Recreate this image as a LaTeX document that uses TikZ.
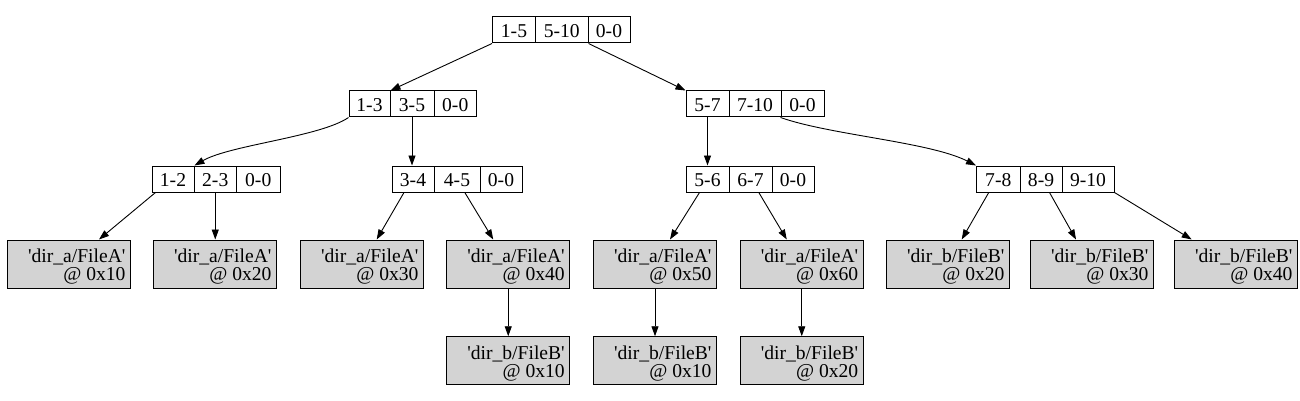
\documentclass[tikz,border=0pt]{standalone}
\usepackage{fontspec}
\newfontfamily\gvfont{Liberation Serif}
\usetikzlibrary{arrows.meta}
\definecolor{gvgray}{HTML}{D3D3D3}
\newcommand{\leaflab}[2]{\makebox[113pt][r]{\begin{tabular}[t]{@{}r@{}}#1\\#2\end{tabular}}}
\begin{document}
\begin{tikzpicture}[x=1pt,y=-1pt,
  gvtext/.style={font=\gvfont\fontsize{19.6}{17.7}\selectfont},
  cell/.style={gvtext, draw, line width=1pt, minimum height=26pt, inner sep=0pt,
    anchor=north west, text height=15.6pt, text depth=0pt},
  leaf/.style={gvtext, draw, fill=gvgray, line width=1pt, minimum width=123pt,
    minimum height=48pt, inner xsep=5pt, inner ysep=2pt, text height=20pt, text depth=23pt},
  conn/.style={line width=0.9pt, -{Triangle[length=10pt,width=7pt]}}]
\path[fill=white, use as bounding box] (0,0) rectangle (1300,401);

% root
\node[cell, minimum width=43pt]   (r1) at (492,16.5) {1-5};
\node[cell, minimum width=52.5pt] (r2) at (535,16.5) {5-10};
\node[cell, minimum width=42pt]   (r3) at (587.5,16.5) {0-0};
% level 1
\node[cell, minimum width=41pt]   (l1) at (348.5,90.5) {1-3};
\node[cell, minimum width=44pt]   (l2) at (389.5,90.5) {3-5};
\node[cell, minimum width=42.5pt] (l3) at (433.5,90.5) {0-0};
\node[cell, minimum width=43pt]   (m1) at (685.5,90.5) {5-7};
\node[cell, minimum width=52pt]   (m2) at (728.5,90.5) {7-10};
\node[cell, minimum width=43pt]   (m3) at (780.5,90.5) {0-0};
% level 2
\node[cell, minimum width=42pt]   (a1) at (151.5,165.5) {1-2};
\node[cell, minimum width=42.5pt] (a2) at (193.5,165.5) {2-3};
\node[cell, minimum width=43.5pt] (a3) at (236,165.5) {0-0};
\node[cell, minimum width=42pt]   (b1) at (391.5,165.5) {3-4};
\node[cell, minimum width=46pt]   (b2) at (433.5,165.5) {4-5};
\node[cell, minimum width=42pt]   (b3) at (479.5,165.5) {0-0};
\node[cell, minimum width=43pt]   (c1) at (685.5,165.5) {5-6};
\node[cell, minimum width=43pt]   (c2) at (728.5,165.5) {6-7};
\node[cell, minimum width=42pt]   (c3) at (771.5,165.5) {0-0};
\node[cell, minimum width=43.5pt] (d1) at (976,165.5) {7-8};
\node[cell, minimum width=42pt]   (d2) at (1019.5,165.5) {8-9};
\node[cell, minimum width=52pt]   (d3) at (1061.5,165.5) {9-10};

% leaves row 1
\node[leaf] (f10) at (69,264)     {\leaflab{'dir\_a/FileA'}{@ 0x10}};
\node[leaf] (f20) at (215,264)    {\leaflab{'dir\_a/FileA'}{@ 0x20}};
\node[leaf] (f30) at (362,264)    {\leaflab{'dir\_a/FileA'}{@ 0x30}};
\node[leaf] (f40) at (508.25,264) {\leaflab{'dir\_a/FileA'}{@ 0x40}};
\node[leaf] (f50) at (655,264)    {\leaflab{'dir\_a/FileA'}{@ 0x50}};
\node[leaf] (f60) at (801.75,264) {\leaflab{'dir\_a/FileA'}{@ 0x60}};
\node[leaf] (g20) at (948,264)    {\leaflab{'dir\_b/FileB'}{@ 0x20}};
\node[leaf] (g30) at (1092,264)   {\leaflab{'dir\_b/FileB'}{@ 0x30}};
\node[leaf] (g40) at (1236,264)   {\leaflab{'dir\_b/FileB'}{@ 0x40}};
% leaves row 2
\node[leaf] (h10) at (508.25,360.75) {\leaflab{'dir\_b/FileB'}{@ 0x10}};
\node[leaf] (k10) at (655,360.75)    {\leaflab{'dir\_b/FileB'}{@ 0x10}};
\node[leaf] (k20) at (801.75,360.75) {\leaflab{'dir\_b/FileB'}{@ 0x20}};

% edges
\draw[conn] (r1.south west) -- (l1.north east);
\draw[conn] (r2.south east) -- (m1.north west);
\draw[conn] (l1.south west) .. controls (320,137) and (230,145) .. (a1.north east);
\draw[conn] (l2.south) -- (l2.south |- b1.north);
\draw[conn] (m1.south) -- (m1.south |- c1.north);
\draw[conn] (m3.south west) .. controls (830,135) and (930,142) .. (d1.north west);

\draw[conn] ([xshift=-17.5pt]a1.south) -- ([xshift=30pt]f10.north);
\draw[conn] (a2.south) -- (a2.south |- f20.north);
\draw[conn] ([xshift=-9pt]b1.south) -- ([xshift=14.7pt]f30.north);
\draw[conn] ([xshift=7.8pt]b2.south) -- ([xshift=-15pt]f40.north);
\draw[conn] ([xshift=-8pt]c1.south) -- ([xshift=15pt]f50.north);
\draw[conn] ([xshift=8.3pt]c2.south) -- ([xshift=-15pt]f60.north);
\draw[conn] ([xshift=-9.5pt]d1.south) -- ([xshift=13.7pt]g20.north);
\draw[conn] ([xshift=8.5pt]d2.south) -- ([xshift=-16pt]g30.north);
\draw[conn] (d3.south east) -- ([xshift=-44.3pt]g40.north);

\draw[conn] (f40.south) -- (h10.north);
\draw[conn] (f50.south) -- (k10.north);
\draw[conn] (f60.south) -- (k20.north);
\end{tikzpicture}
\end{document}
